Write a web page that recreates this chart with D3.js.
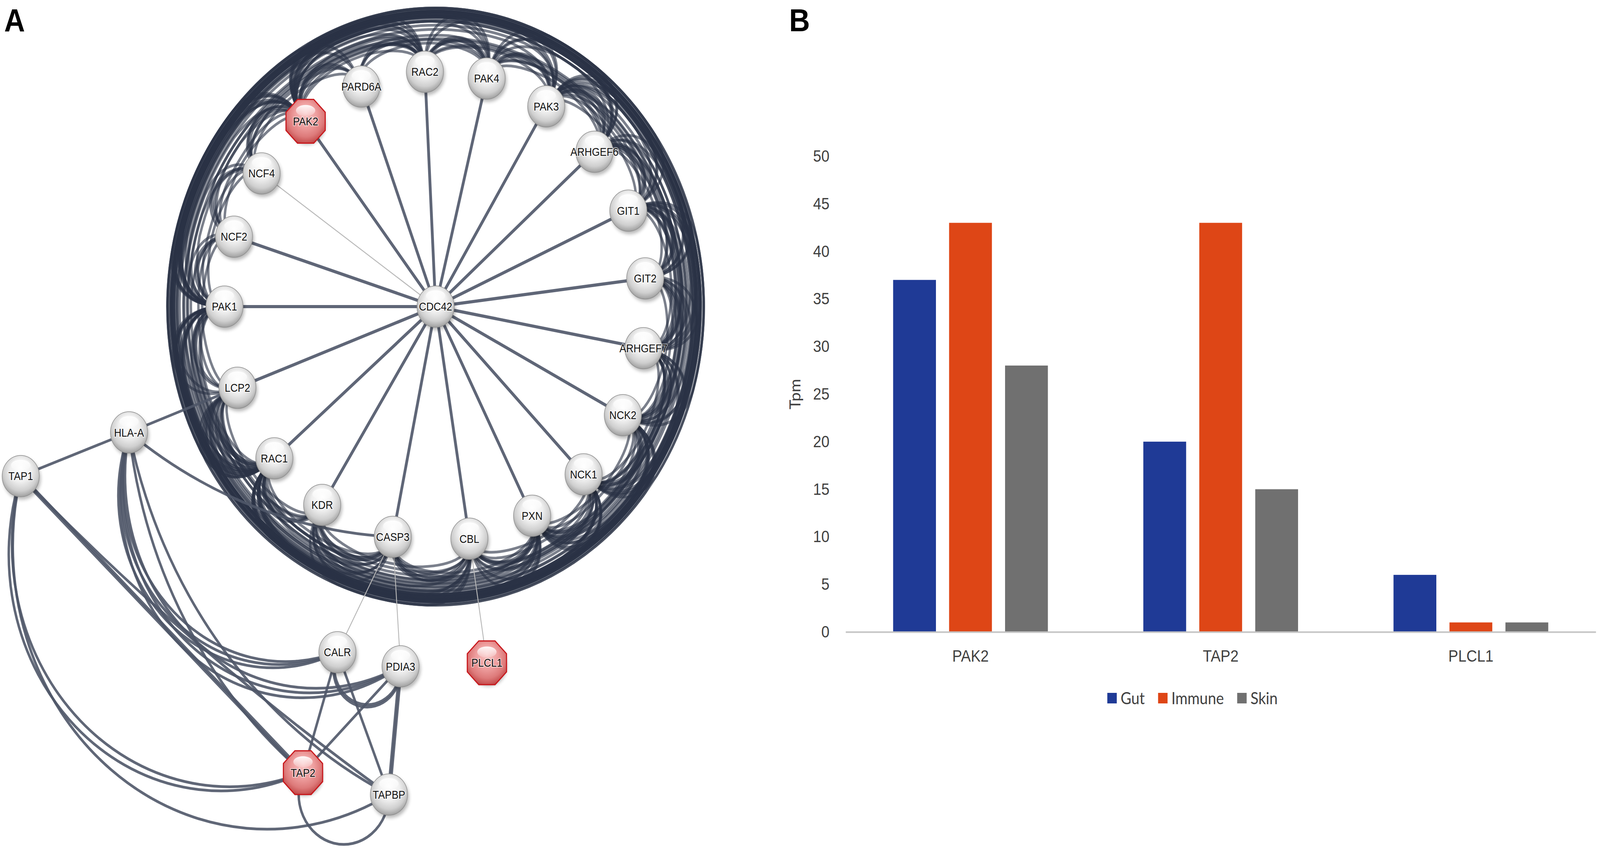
<!DOCTYPE html>
<html>
<head>
<meta charset="utf-8">
<script src="https://cdn.jsdelivr.net/npm/d3@7"></script>
<style>
  html, body { margin: 0; padding: 0; background: #fff; overflow: hidden; }
  svg { display: block; width: 100vw; height: 100vh; }
</style>
</head>
<body>
<svg id="fig"></svg>
<script>
"use strict";

// ---- panel B data ----
const categories = ["PAK2", "TAP2", "PLCL1"];
const seriesNames = ["Gut", "Immune", "Skin"];
const gutTpm = [37, 20, 6];
const immuneTpm = [43, 43, 1];
const skinTpm = [28, 15, 1];
const yTicks = [0, 5, 10, 15, 20, 25, 30, 35, 40, 45, 50];

// ---- panel A data (STRING network, layout units: ring radius = 1, hub at 0,0) ----
const hubNode = "CDC42";
const ringNodes = ["PAK1", "NCF2", "NCF4", "PAK2", "PARD6A", "RAC2", "PAK4", "PAK3", "ARHGEF6", "GIT1",
  "GIT2", "ARHGEF7", "NCK2", "NCK1", "PXN", "CBL", "CASP3", "KDR", "RAC1", "LCP2"];
const ringAngles = [180, 197.3, 214.5, 232, 249.4, 267.1, 284, 301.6, 318.8, 335.9,
  353.1, 10.2, 27.5, 45.5, 62.8, 80.8, 101.7, 122.5, 139.8, 159.8];
const sideNodes = ["HLA-A", "TAP1", "CALR", "PDIA3", "PLCL1", "TAP2", "TAPBP"];
const sideX = [-1.452, -1.965, -0.465, -0.166, 0.243, -0.628, -0.221];
const sideY = [0.535, 0.721, 1.470, 1.530, 1.515, 1.982, 2.075];
const queryNodes = ["PAK2", "TAP2", "PLCL1"];
const weakSpokes = ["NCF4"];

const ringLinks = [
  "PAK1-PAK2", "PAK1-PAK3", "PAK1-PAK4", "PAK1-ARHGEF6", "PAK1-ARHGEF7", "PAK1-GIT1", "PAK1-GIT2",
  "PAK1-NCK1", "PAK1-NCK2", "PAK1-PXN", "PAK1-RAC1", "PAK1-RAC2", "PAK1-NCF2", "PAK1-LCP2",
  "PAK1-KDR", "PAK1-CBL", "PAK1-CASP3", "PAK1-NCF4",
  "PAK2-PAK3", "PAK2-PAK4", "PAK2-ARHGEF6", "PAK2-ARHGEF7", "PAK2-GIT1", "PAK2-GIT2", "PAK2-NCK1",
  "PAK2-NCK2", "PAK2-PXN", "PAK2-RAC1", "PAK2-RAC2", "PAK2-CASP3", "PAK2-CBL", "PAK2-PARD6A",
  "PAK2-NCF2", "PAK2-NCF4",
  "PAK3-PAK4", "PAK3-ARHGEF6", "PAK3-ARHGEF7", "PAK3-GIT1", "PAK3-GIT2", "PAK3-NCK1", "PAK3-NCK2",
  "PAK3-PXN", "PAK3-RAC1", "PAK3-RAC2",
  "PAK4-ARHGEF6", "PAK4-ARHGEF7", "PAK4-RAC1", "PAK4-RAC2", "PAK4-PARD6A", "PAK4-GIT1", "PAK4-NCK1",
  "ARHGEF6-ARHGEF7", "ARHGEF6-GIT1", "ARHGEF6-GIT2", "ARHGEF6-PXN", "ARHGEF6-RAC1", "ARHGEF6-NCK2",
  "ARHGEF6-RAC2",
  "ARHGEF7-GIT1", "ARHGEF7-GIT2", "ARHGEF7-PXN", "ARHGEF7-RAC1", "ARHGEF7-CBL", "ARHGEF7-NCK1",
  "ARHGEF7-NCK2",
  "GIT1-GIT2", "GIT1-PXN", "GIT1-NCK1", "GIT1-NCK2", "GIT1-RAC1", "GIT1-KDR",
  "GIT2-PXN", "GIT2-RAC1", "GIT2-NCK1", "GIT2-NCK2",
  "NCK1-NCK2", "NCK1-PXN", "NCK1-CBL", "NCK1-KDR", "NCK1-LCP2", "NCK1-RAC1", "NCK1-CASP3",
  "NCK2-PXN", "NCK2-CBL", "NCK2-KDR", "NCK2-LCP2", "NCK2-RAC1",
  "PXN-CBL", "PXN-KDR", "PXN-RAC1", "PXN-CASP3", "PXN-LCP2",
  "CBL-KDR", "CBL-LCP2", "CBL-RAC1", "CBL-CASP3", "CBL-RAC2",
  "CASP3-KDR", "CASP3-RAC1", "CASP3-LCP2",
  "KDR-RAC1", "KDR-LCP2",
  "RAC1-RAC2", "RAC1-NCF2", "RAC1-NCF4", "RAC1-PARD6A", "RAC1-LCP2",
  "RAC2-NCF2", "RAC2-NCF4", "RAC2-PARD6A", "RAC2-LCP2",
  "NCF2-NCF4", "NCF2-LCP2", "PARD6A-NCF4"
];

// [source, target, bend in degrees (0 = straight), strands, weak]
const extraLinks = [
  ["LCP2", "HLA-A", 0, 1, false],
  ["HLA-A", "TAP1", 0, 1, false],
  ["HLA-A", "CASP3", -34, 1, false],
  ["TAP1", "TAP2", 0, 2, false],
  ["TAP1", "TAP2", -129, 2, false],
  ["TAP1", "TAPBP", -133, 1, false],
  ["TAP1", "TAPBP", -10, 1, false],
  ["HLA-A", "CALR", -130, 3, false],
  ["HLA-A", "PDIA3", -134, 3, false],
  ["HLA-A", "TAP2", -45, 1, false],
  ["HLA-A", "TAPBP", -52, 1, false],
  ["CALR", "TAP2", 0, 1, false],
  ["CALR", "TAPBP", 0, 1, false],
  ["PDIA3", "TAP2", 0, 1, false],
  ["PDIA3", "TAPBP", 0, 2, false],
  ["CALR", "PDIA3", -210, 2, false],
  ["TAP2", "TAPBP", -205, 1, false],
  ["CASP3", "CALR", 0, 1, true],
  ["CASP3", "PDIA3", 0, 1, true],
  ["CBL", "PLCL1", 0, 1, true]
];

// ---- canvas (drawn in 4562 x 2184 units, stretched to the window) ----
const W = 4562, H = 2184;
const svg = d3.select("#fig")
  .attr("viewBox", `0 0 ${W} ${H}`)
  .attr("preserveAspectRatio", "none");
const defs = svg.append("defs");

// ================= panel A =================
const unit = 602;
const netX = d3.scaleLinear().domain([-1, 1]).range([1242 - unit, 1242 + unit]);
const netY = d3.scaleLinear().domain([-1, 1]).range([785 - unit, 785 + unit]);

const pol = (r, deg) => {
  const t = (deg * Math.PI) / 180;
  return [netX(r * Math.cos(t)), netY(r * Math.sin(t))];
};

const pos = {};
pos[hubNode] = [netX(0), netY(0)];
ringNodes.forEach((n, i) => (pos[n] = pol(1, ringAngles[i])));
sideNodes.forEach((n, i) => (pos[n] = [netX(sideX[i]), netY(sideY[i])]));
const angleOf = {};
ringNodes.forEach((n, i) => (angleOf[n] = ringAngles[i]));

// curved ring edges: out to a circle, along it, back in
const ringPath = (a, b, k, strand) => {
  const d = ((((b - a) % 360) + 540) % 360) - 180;
  const s = Math.sign(d) || 1;
  const ad = Math.abs(d);
  const jit = ((k * 7) % 5) * 0.007 + strand * 0.018;
  const phi = 11 + strand * 4;
  const p0 = pol(1, a), p3 = pol(1, b);
  if (ad <= 2 * phi + 2) {
    const rc = 1.24 - jit;
    return `M${p0}C${pol(rc, a + s * 2)} ${pol(rc, b - s * 2)} ${p3}`;
  }
  const re = 1.09 + 0.18 * Math.min(ad / 110, 1) - jit;
  const rm = 1 + 0.7 * (re - 1);
  const R = re * unit;
  const large = ad - 2 * phi > 180 ? 1 : 0;
  return `M${p0}C${pol(rm, a)} ${pol(re, a + s * phi * 0.4)} ${pol(re, a + s * phi)}` +
    `A${R},${R} 0 ${large} ${s > 0 ? 1 : 0} ${pol(re, b - s * phi)}` +
    `C${pol(re, b - s * phi * 0.4)} ${pol(rm, b)} ${p3}`;
};

const arcPath = (p0, p1, bend) => {
  if (!bend) return `M${p0}L${p1}`;
  const c = Math.hypot(p1[0] - p0[0], p1[1] - p0[1]);
  const R = c / (2 * Math.sin((Math.abs(bend) * Math.PI) / 360));
  return `M${p0}A${R},${R} 0 ${Math.abs(bend) > 180 ? 1 : 0} ${bend > 0 ? 1 : 0} ${p1}`;
};

const net = svg.append("g").attr("class", "network");

const ringStrands = [];
ringLinks.forEach((l, i) => {
  const [a, b] = l.split("-");
  ringStrands.push({ a, b, i, strand: 0 });
  ringStrands.push({ a, b, i, strand: 1 });
});

net.append("g")
  .selectAll("path")
  .data(ringStrands)
  .enter()
  .append("path")
  .attr("d", (d) => ringPath(angleOf[d.a], angleOf[d.b], d.i, d.strand))
  .attr("fill", "none")
  .attr("stroke", "#2a3245")
  .attr("stroke-opacity", 0.62)
  .attr("stroke-width", 7);

// spokes from the hub
net.append("g")
  .selectAll("line")
  .data(ringNodes)
  .enter()
  .append("line")
  .attr("x1", pos[hubNode][0])
  .attr("y1", pos[hubNode][1])
  .attr("x2", (d) => pos[d][0])
  .attr("y2", (d) => pos[d][1])
  .attr("stroke", (d) => (weakSpokes.includes(d) ? "#b8b8b8" : "#5f6677"))
  .attr("stroke-width", (d) => (weakSpokes.includes(d) ? 2.5 : 8));

// other edges, split into strands
const strands = [];
extraLinks.forEach(([s, t, bend, n, weak]) => {
  for (let i = 0; i < n; i++) {
    const off = bend ? (i - (n - 1) / 2) * 6 : 0;
    const shift = bend ? 0 : (i - (n - 1) / 2) * 5;
    strands.push({ s, t, bend: bend + off, shift, weak });
  }
});

net.append("g")
  .selectAll("path")
  .data(strands)
  .enter()
  .append("path")
  .attr("d", (d) => {
    const a = pos[d.s], b = pos[d.t];
    if (d.shift) {
      const len = Math.hypot(b[0] - a[0], b[1] - a[1]);
      const nx = (-(b[1] - a[1]) / len) * d.shift, ny = ((b[0] - a[0]) / len) * d.shift;
      return arcPath([a[0] + nx, a[1] + ny], [b[0] + nx, b[1] + ny], 0);
    }
    return arcPath(a, b, d.bend);
  })
  .attr("fill", "none")
  .attr("stroke", (d) => (d.weak ? "#b8b8b8" : "#4f5668"))
  .attr("stroke-opacity", (d) => (d.weak ? 1 : 0.9))
  .attr("stroke-width", (d) => (d.weak ? 2.5 : 7));

// node styling
const addStops = (grad, stops) =>
  stops.forEach(([o, c, a]) =>
    grad.append("stop").attr("offset", o).attr("stop-color", c).attr("stop-opacity", a === undefined ? 1 : a));

addStops(
  defs.append("radialGradient").attr("id", "ballGray")
    .attr("cx", "50%").attr("cy", "42%").attr("r", "62%").attr("fx", "50%").attr("fy", "30%"),
  [["0%", "#ffffff"], ["45%", "#f0f0f0"], ["75%", "#cfcfcf"], ["92%", "#a6a6a6"], ["100%", "#8a8a8a"]]
);
addStops(
  defs.append("radialGradient").attr("id", "ballRed")
    .attr("cx", "50%").attr("cy", "42%").attr("r", "62%").attr("fx", "50%").attr("fy", "30%"),
  [["0%", "#f9c4c4"], ["45%", "#ee9e9e"], ["75%", "#dd7a7a"], ["92%", "#c85454"], ["100%", "#b33a3a"]]
);
addStops(
  defs.append("linearGradient").attr("id", "shine").attr("x1", 0).attr("y1", 0).attr("x2", 0).attr("y2", 1),
  [["0%", "#ffffff", 0.95], ["100%", "#ffffff", 0.15]]
);
defs.append("filter").attr("id", "blur").attr("x", "-50%").attr("y", "-50%").attr("width", "200%").attr("height", "200%")
  .append("feGaussianBlur").attr("stdDeviation", 5);

const nodeR = 53;
const allNodes = [hubNode, ...ringNodes, ...sideNodes];
const octagon = d3.range(8).map((k) => {
  const t = ((22.5 + k * 45) * Math.PI) / 180;
  const rr = (nodeR + 3) / Math.cos(Math.PI / 8);
  return [rr * Math.cos(t), rr * Math.sin(t)];
});

const nodeG = net.append("g")
  .selectAll("g")
  .data(allNodes)
  .enter()
  .append("g")
  .attr("transform", (d) => `translate(${pos[d][0]},${pos[d][1]})`);

nodeG.append("circle")
  .attr("cx", 4).attr("cy", 7).attr("r", nodeR)
  .attr("fill", "#000").attr("opacity", 0.28)
  .attr("filter", "url(#blur)");

nodeG.filter((d) => queryNodes.includes(d))
  .append("path")
  .attr("d", d3.line()(octagon) + "Z")
  .attr("fill", "url(#ballRed)")
  .attr("stroke", "#c8161b")
  .attr("stroke-width", 3);

nodeG.filter((d) => !queryNodes.includes(d))
  .append("circle")
  .attr("r", nodeR)
  .attr("fill", "url(#ballGray)")
  .attr("stroke", "#8e8e8e")
  .attr("stroke-width", 1.5);

nodeG.append("ellipse")
  .attr("cy", -nodeR * 0.52)
  .attr("rx", nodeR * 0.52)
  .attr("ry", nodeR * 0.27)
  .attr("fill", "url(#shine)");

nodeG.append("text")
  .attr("text-anchor", "middle")
  .attr("dy", "0.36em")
  .style("font-family", "'Liberation Sans', Arial, sans-serif")
  .style("font-size", "29px")
  .style("fill", "#111")
  .style("paint-order", "stroke")
  .style("stroke", "rgba(255,255,255,0.55)")
  .style("stroke-width", 4)
  .text((d) => d);

// ================= panel B =================
const plot = { left: 2411, right: 4550, top: 400, bottom: 1618 };
const colour = d3.scaleOrdinal().domain(seriesNames).range(["#1f3a96", "#de4616", "#707070"]);
const values = { Gut: gutTpm, Immune: immuneTpm, Skin: skinTpm };
const rows = categories.map((c, i) => ({ cat: c, vals: seriesNames.map((s) => ({ s, v: values[s][i] })) }));

const x0 = d3.scaleBand().domain(categories).range([plot.left, plot.right])
  .paddingInner(0.3815).paddingOuter(0.19);
const x1 = d3.scaleBand().domain(seriesNames).range([0, x0.bandwidth()]).paddingInner(0.235);
const y = d3.scaleLinear().domain([0, 50]).range([plot.bottom, plot.top]);

const chart = svg.append("g").attr("class", "bars")
  .style("font-family", "Lato, 'Open Sans', sans-serif");

chart.selectAll("g.cat")
  .data(rows)
  .enter()
  .append("g")
  .attr("class", "cat")
  .attr("transform", (d) => `translate(${x0(d.cat)},0)`)
  .selectAll("rect")
  .data((d) => d.vals)
  .enter()
  .append("rect")
  .attr("x", (d) => x1(d.s))
  .attr("y", (d) => y(d.v))
  .attr("width", x1.bandwidth())
  .attr("height", (d) => y(0) - y(d.v))
  .style("fill", (d) => colour(d.s));

const xAxis = chart.append("g")
  .attr("transform", `translate(0,${y(0)})`)
  .call(d3.axisBottom(x0).tickSize(0).tickSizeOuter(0).tickPadding(46));
xAxis.select(".domain").attr("stroke", "#c4c4c4").attr("stroke-width", 4);
xAxis.selectAll("text").style("font-size", "42px").style("fill", "#404040");

const yAxis = chart.append("g")
  .attr("transform", `translate(${plot.left},0)`)
  .call(d3.axisLeft(y).tickValues(yTicks).tickSize(0).tickPadding(46));
yAxis.select(".domain").remove();
yAxis.selectAll("text").style("font-size", "42px").style("fill", "#404040");

chart.append("text")
  .attr("transform", `translate(2282,${(plot.top + plot.bottom) / 2}) rotate(-90)`)
  .attr("text-anchor", "middle")
  .style("font-size", "42px")
  .style("fill", "#404040")
  .text("Tpm");

// legend
const legend = chart.append("g").attr("transform", "translate(0,1788)");
const items = legend.selectAll("g")
  .data(seriesNames)
  .enter()
  .append("g");
items.append("rect")
  .attr("y", -14).attr("width", 27).attr("height", 27)
  .style("fill", (d) => colour(d));
items.append("text")
  .attr("x", 38)
  .attr("dy", "0.36em")
  .style("font-size", "42px")
  .style("fill", "#404040")
  .text((d) => d);
const widths = [];
items.each(function () {
  widths.push(38 + this.querySelector("text").getComputedTextLength());
});
const gap = 38;
const total = d3.sum(widths) + gap * (widths.length - 1);
let cursor = 3400 - total / 2;
items.attr("transform", (d, i) => {
  const tx = cursor;
  cursor += widths[i] + gap;
  return `translate(${tx},0)`;
});

// panel letters
svg.selectAll("text.panel")
  .data([["A", 12], ["B", 2250]])
  .enter()
  .append("text")
  .attr("class", "panel")
  .attr("x", (d) => d[1])
  .attr("y", 80)
  .style("font-family", "'Liberation Sans', Arial, sans-serif")
  .style("font-weight", "bold")
  .style("font-size", "82px")
  .text((d) => d[0]);
</script>
</body>
</html>
